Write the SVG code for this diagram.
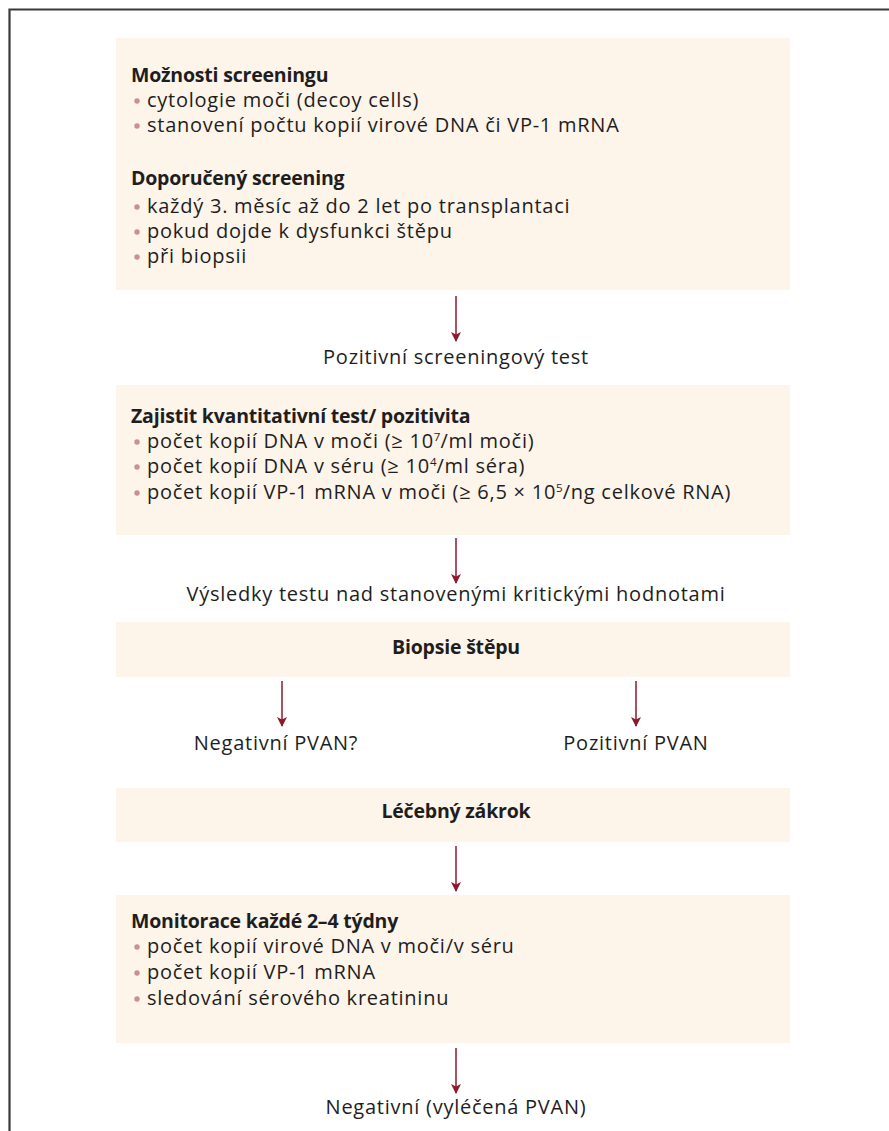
<svg xmlns="http://www.w3.org/2000/svg" width="889" height="1131" viewBox="0 0 889 1131">
<style>
.box{fill:#fdf4ea}
.t{font-family:"Open Sans","Noto Sans",sans-serif;font-size:20px;letter-spacing:0.75px;fill:#1e1e1e}
.b{font-weight:bold;font-size:19.5px;letter-spacing:-0.2px}
.c{text-anchor:middle}
.dot{fill:#c99090}
.con{stroke:#8b1a2e;stroke-width:1.5;fill:none}
.sup{font-size:11.5px;letter-spacing:0}
</style>
<defs>
<marker id="ah" viewBox="0 0 10 16" refX="9" refY="8" markerWidth="10" markerHeight="16" markerUnits="userSpaceOnUse" orient="auto">
<path d="M0,3 L10,8 L0,13 L2.5,8 Z" fill="#8b1a2e"/>
</marker>
</defs>
<rect width="889" height="1131" fill="#fff"/>
<path d="M9.5,1131 V9.5 H889" fill="none" stroke="#3a3a3a" stroke-width="2.2"/>

<g id="n1">
<rect class="box" x="116" y="38" width="674" height="252"/>
<text class="t b" x="131" y="82">Možnosti screeningu</text>
<circle class="dot" cx="137" cy="101" r="2.7"/>
<text class="t" x="147" y="107">cytologie moči (decoy cells)</text>
<circle class="dot" cx="137" cy="126" r="2.7"/>
<text class="t" x="147" y="132">stanovení počtu kopií virové DNA či VP-1 mRNA</text>
<text class="t b" x="131" y="185">Doporučený screening</text>
<circle class="dot" cx="137" cy="207" r="2.7"/>
<text class="t" x="147" y="213">každý 3. měsíc až do 2 let po transplantaci</text>
<circle class="dot" cx="137" cy="232" r="2.7"/>
<text class="t" x="147" y="238">pokud dojde k dysfunkci štěpu</text>
<circle class="dot" cx="137" cy="257" r="2.7"/>
<text class="t" x="147" y="263">při biopsii</text>
</g>

<g id="n2">
<text class="t c" x="456" y="364">Pozitivní screeningový test</text>
</g>

<g id="n3">
<rect class="box" x="116" y="385" width="674" height="150"/>
<text class="t b" x="131" y="423">Zajistit kvantitativní test/ pozitivita</text>
<circle class="dot" cx="137" cy="442" r="2.7"/>
<text class="t" x="147" y="448">počet kopií DNA v moči (≥ 10<tspan class="sup" dy="-7">7</tspan><tspan dy="7">/ml moči)</tspan></text>
<circle class="dot" cx="137" cy="467" r="2.7"/>
<text class="t" x="147" y="473">počet kopií DNA v séru (≥ 10<tspan class="sup" dy="-7">4</tspan><tspan dy="7">/ml séra)</tspan></text>
<circle class="dot" cx="137" cy="493" r="2.7"/>
<text class="t" x="147" y="499">počet kopií VP-1 mRNA v moči (≥ 6,5 × 10<tspan class="sup" dy="-7">5</tspan><tspan dy="7">/ng celkové RNA)</tspan></text>
</g>

<g id="n4">
<text class="t c" x="456" y="601">Výsledky testu nad stanovenými kritickými hodnotami</text>
</g>

<g id="n5">
<rect class="box" x="116" y="622" width="674" height="55"/>
<text class="t b c" x="456" y="654">Biopsie štěpu</text>
</g>

<g id="n6">
<text class="t c" x="276" y="750">Negativní PVAN?</text>
</g>
<g id="n7">
<text class="t c" x="636" y="750">Pozitivní PVAN</text>
</g>

<g id="n8">
<rect class="box" x="116" y="788" width="674" height="54"/>
<text class="t b c" x="456" y="818">Léčebný zákrok</text>
</g>

<g id="n9">
<rect class="box" x="116" y="895" width="674" height="148"/>
<text class="t b" x="131" y="928">Monitorace každé 2–4 týdny</text>
<circle class="dot" cx="137" cy="947" r="2.7"/>
<text class="t" x="147" y="953">počet kopií virové DNA v moči/v séru</text>
<circle class="dot" cx="137" cy="973" r="2.7"/>
<text class="t" x="147" y="979">počet kopií VP-1 mRNA</text>
<circle class="dot" cx="137" cy="999" r="2.7"/>
<text class="t" x="147" y="1005">sledování sérového kreatininu</text>
</g>

<g id="n10">
<text class="t c" x="456" y="1114">Negativní (vyléčená PVAN)</text>
</g>

<g id="connectors">
<line class="con" x1="456" y1="296" x2="456" y2="341" marker-end="url(#ah)"/>
<line class="con" x1="456" y1="538" x2="456" y2="583" marker-end="url(#ah)"/>
<line class="con" x1="282" y1="681" x2="282" y2="726" marker-end="url(#ah)"/>
<line class="con" x1="636" y1="681" x2="636" y2="726" marker-end="url(#ah)"/>
<line class="con" x1="456" y1="846" x2="456" y2="891" marker-end="url(#ah)"/>
<line class="con" x1="456" y1="1048" x2="456" y2="1093" marker-end="url(#ah)"/>
</g>
</svg>
